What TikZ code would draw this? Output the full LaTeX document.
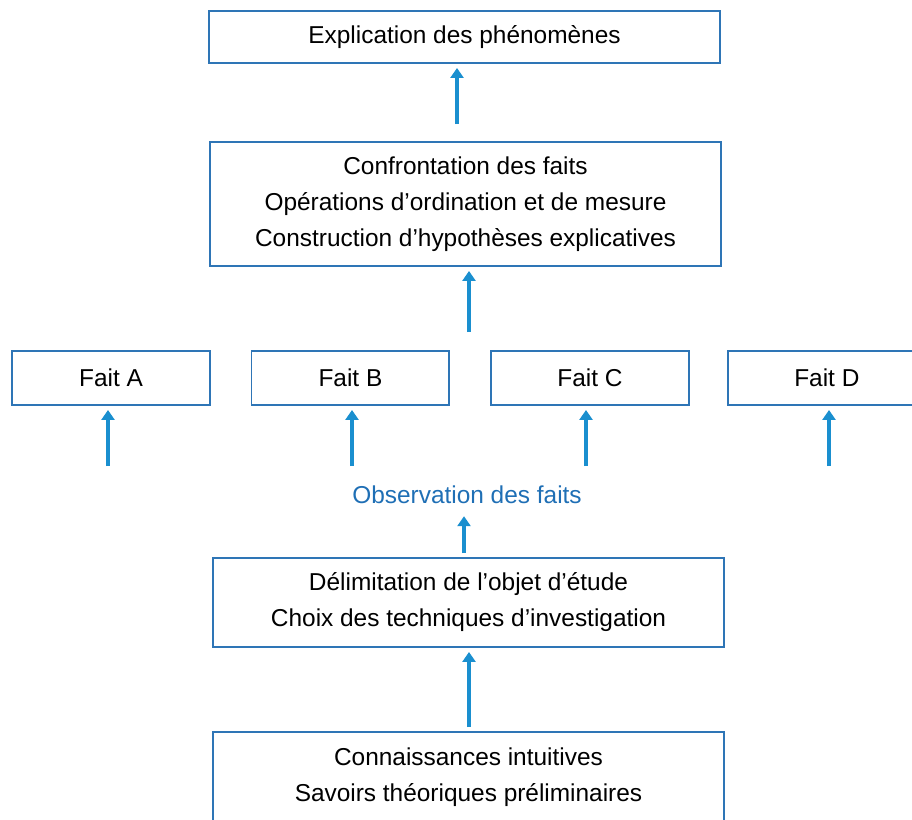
\documentclass[tikz,border=0pt]{standalone}
\usepackage{fontspec}
\setmainfont{Liberation Sans}
\usetikzlibrary{positioning,arrows.meta}
\definecolor{boxblue}{HTML}{2E75B6}
\definecolor{arrblue}{HTML}{1A8FCF}
\definecolor{obsblue}{HTML}{1F6FB5}

\begin{document}
\begin{tikzpicture}[x=0.02cm,y=-0.02cm,node distance=4.79cm,on grid,
		box/.style={draw=boxblue,line width=1.1pt,align=center,inner sep=0pt,
			font=\fontsize{13.9}{20.5}\selectfont},
		up/.style={color=arrblue,line width=2.2pt,-{Triangle[width=0.26cm,length=0.2cm]},shorten >=0.08cm}]
		\useasboundingbox (0,0) rectangle (912,819);
		\clip (0,0) rectangle (912,819);
		\node[box,minimum width=10.22cm,minimum height=1.04cm] (expl) at (464.5,37) {Explication des phénomènes} ;
		\node[box,minimum width=10.22cm,minimum height=2.48cm] (conf) at (465.5,204) {Confrontation des faits\\Opérations d’ordination et de mesure\\Construction d’hypothèses explicatives} ;
		\node[box,minimum width=3.96cm,minimum height=1.08cm] (fa) at (111,378) {Fait A} ;
		\node[box,minimum width=3.96cm,minimum height=1.08cm] (fb) [right=of fa] {Fait B} ;
		\node[box,minimum width=3.96cm,minimum height=1.08cm] (fc) [right=of fb] {Fait C} ;
		\node[box,minimum width=3.96cm,minimum height=1.08cm] (fd) [right=4.74cm of fc] {Fait D} ;
		\node[text=obsblue,font=\fontsize{13.9}{16}\selectfont] (obs) at (467,495) {Observation des faits} ;
		\node[box,minimum width=10.22cm,minimum height=1.78cm] (delim) at (468.5,602.5) {Délimitation de l’objet d’étude\\Choix des techniques d’investigation} ;
		\node[box,minimum width=10.22cm,minimum height=1.8cm] (conn) at (468.5,777) {Connaissances intuitives\\Savoirs théoriques préliminaires} ;
		% free tails of the arrows
		\coordinate (t1) at (457,124);
		\coordinate (t2) at (469,332);
		\coordinate (ta) at (108,466);
		\coordinate (tb) at (352,466);
		\coordinate (tc) at (586,466);
		\coordinate (td) at (829,466);
		\coordinate (t3) at (464,553);
		\coordinate (t4) at (469,727);
		\path[up]
			(t1) edge (t1 |- expl.south)
			(t2) edge (t2 |- conf.south)
			(ta) edge (ta |- fa.south)
			(tb) edge (tb |- fb.south)
			(tc) edge (tc |- fc.south)
			(td) edge (td |- fd.south)
			(t3) edge [shorten >=0.12cm] (t3 |- obs.south)
			(t4) edge (t4 |- delim.south) ;
	\end{tikzpicture}
\end{document}
